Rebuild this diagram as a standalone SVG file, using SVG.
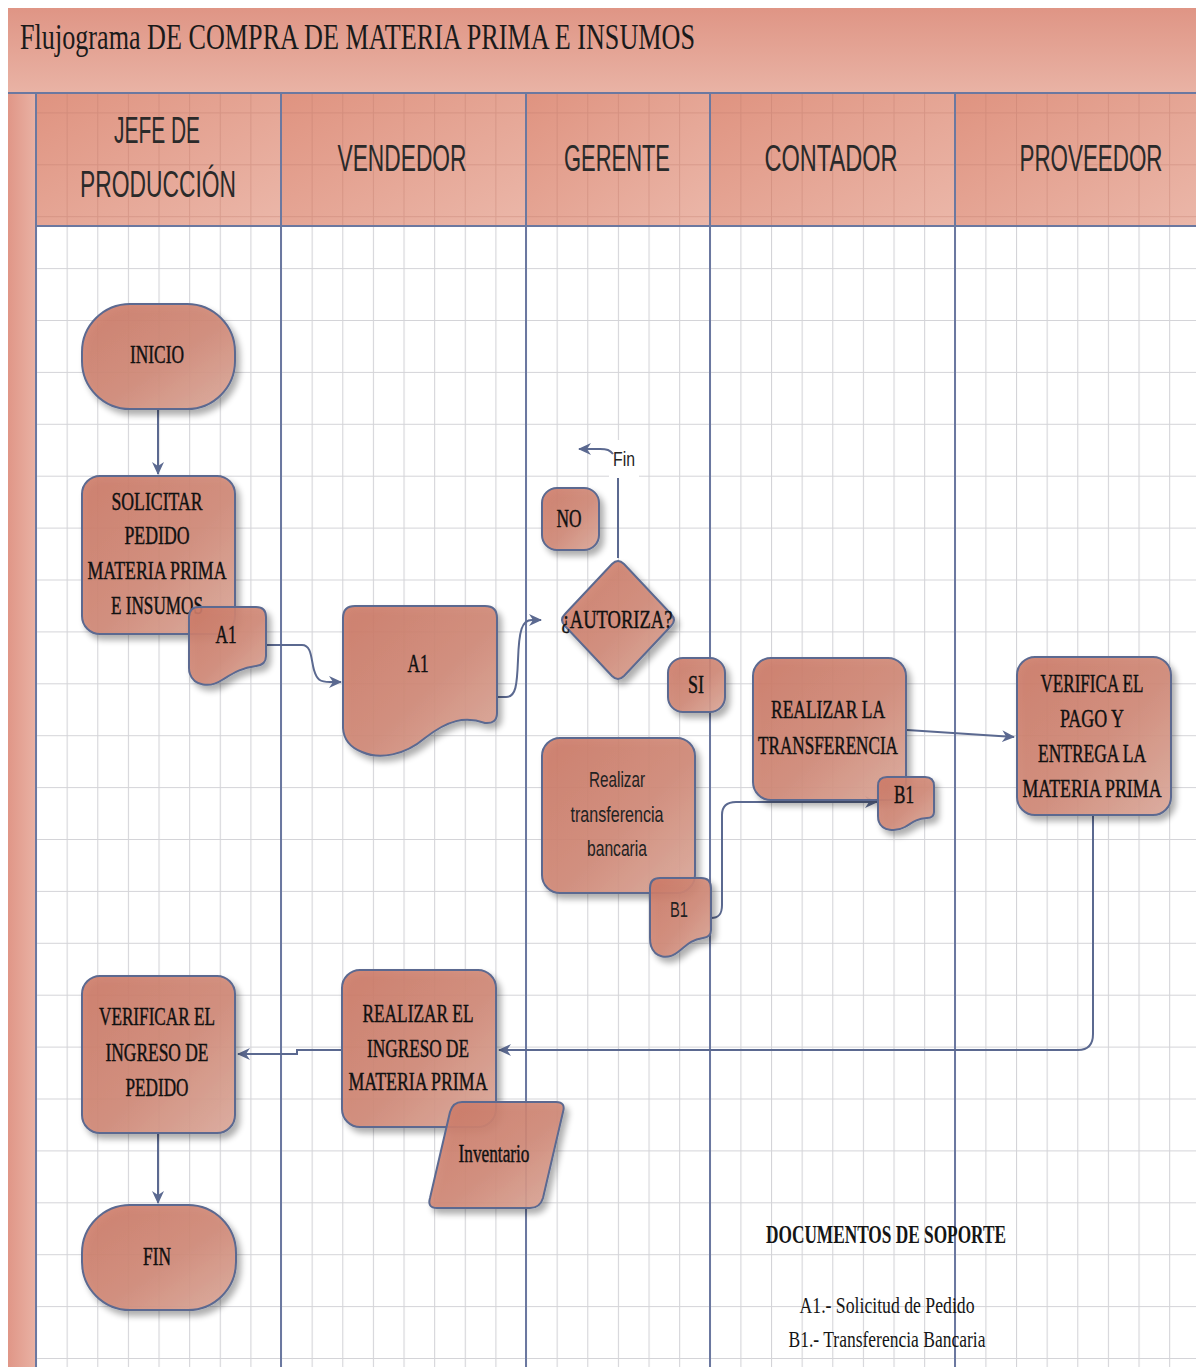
<svg xmlns="http://www.w3.org/2000/svg" width="1196" height="1367" viewBox="0 0 1196 1367">
<style>
.shape{fill:url(#gShape);fill-opacity:0.9;stroke:#5b6990;stroke-width:2;filter:url(#sh)}
.t{font-family:"Liberation Serif",serif;font-size:26px;fill:#111;stroke:#111;stroke-width:0.45;text-anchor:middle}
.ts{font-family:"Liberation Sans",sans-serif;font-size:22px;fill:#222;text-anchor:middle}
.hd{font-family:"Liberation Sans",sans-serif;font-size:36px;fill:#2a2a2a;text-anchor:middle}
.lane{stroke:#6b78a0;stroke-width:2;fill:none}
.con{stroke:#5b6990;stroke-width:2;fill:none}
.arr{marker-end:url(#ah)}
</style>
<defs>
<pattern id="grid" patternUnits="userSpaceOnUse" x="36" y="8.6" width="30.625" height="51.9">
<path d="M0,0 V51.9 M0,0 H30.625" stroke="#d4d4d8" stroke-width="2.2" fill="none"/>
</pattern>
<pattern id="gridH" patternUnits="userSpaceOnUse" x="36" y="8.6" width="30.625" height="51.9">
<path d="M0,0 V51.9 M0,0 H30.625" stroke="#b97466" stroke-opacity="0.35" stroke-width="2" fill="none"/>
</pattern>
<linearGradient id="gShape" x1="0" y1="0" x2="1" y2="1">
<stop offset="0" stop-color="#cc7966"/>
<stop offset="0.55" stop-color="#d18a78"/>
<stop offset="1" stop-color="#dcaa9c"/>
</linearGradient>
<linearGradient id="gHead" x1="0" y1="0" x2="1" y2="1">
<stop offset="0" stop-color="#df9380"/>
<stop offset="1" stop-color="#ebb7a9"/>
</linearGradient>
<linearGradient id="gTitle" x1="0" y1="0" x2="0" y2="1">
<stop offset="0" stop-color="#df9585"/>
<stop offset="1" stop-color="#e9b3a5"/>
</linearGradient>
<linearGradient id="gStrip" x1="0" y1="0" x2="1" y2="0">
<stop offset="0" stop-color="#e09687"/>
<stop offset="1" stop-color="#e9b2a4"/>
</linearGradient>
<filter id="sh" x="-20%" y="-20%" width="150%" height="150%">
<feGaussianBlur in="SourceAlpha" stdDeviation="3"/>
<feOffset dx="4" dy="5" result="o"/>
<feComponentTransfer><feFuncA type="linear" slope="0.35"/></feComponentTransfer>
<feMerge><feMergeNode/><feMergeNode in="SourceGraphic"/></feMerge>
</filter>
<marker id="ah" markerUnits="userSpaceOnUse" markerWidth="14" markerHeight="14" refX="12" refY="7" orient="auto">
<path d="M0,1 L13,7 L0,13 L4,7 Z" fill="#5b6990"/>
</marker>
</defs>

<g id="background">
<rect x="0" y="0" width="1196" height="1367" fill="#ffffff"/>
<rect x="36" y="226" width="1160" height="1141" fill="url(#grid)"/>
<rect x="8" y="8" width="1188" height="85" fill="url(#gTitle)"/>
<rect x="8" y="93" width="28" height="1274" fill="url(#gStrip)"/>
<rect x="36" y="93" width="245" height="133" fill="url(#gHead)"/>
<rect x="281" y="93" width="245" height="133" fill="url(#gHead)"/>
<rect x="526" y="93" width="184" height="133" fill="url(#gHead)"/>
<rect x="710" y="93" width="245" height="133" fill="url(#gHead)"/>
<rect x="955" y="93" width="241" height="133" fill="url(#gHead)"/>
<rect x="36" y="93" width="1160" height="133" fill="url(#gridH)"/>
<text x="20" y="49" font-family="Liberation Serif, serif" font-size="35" fill="#1a1a1a" textLength="675" lengthAdjust="spacingAndGlyphs">Flujograma DE COMPRA DE MATERIA PRIMA E INSUMOS</text>
</g>

<g id="lanes">
<path class="lane" d="M8,93 H1196 M36,226 H1196 M36,93 V1367 M281,93 V1367 M526,93 V1367 M710,93 V1367 M955,93 V1367"/>
<text class="hd" x="157" y="143" textLength="86" lengthAdjust="spacingAndGlyphs">JEFE DE</text>
<text class="hd" x="158" y="197" textLength="156" lengthAdjust="spacingAndGlyphs">PRODUCCIÓN</text>
<text class="hd" x="402" y="171" textLength="129" lengthAdjust="spacingAndGlyphs">VENDEDOR</text>
<text class="hd" x="617" y="171" textLength="106" lengthAdjust="spacingAndGlyphs">GERENTE</text>
<text class="hd" x="831" y="171" textLength="133" lengthAdjust="spacingAndGlyphs">CONTADOR</text>
<text class="hd" x="1091" y="171" font-size="33" textLength="143" lengthAdjust="spacingAndGlyphs">PROVEEDOR</text>
</g>

<g id="connectors">
<path class="con arr" d="M158,408 V474"/>
<path class="con arr" d="M266,645 H302 C312,645 311,660 314,670 C317,680 320,682 330,682 H341"/>
<path class="con arr" d="M497,697 H506 C516,697 517,685 518,660 C519,630 522,620 532,620 H541"/>
<path class="con" d="M618,558 V478"/>
<rect x="609" y="440" width="30" height="38" fill="#ffffff"/>
<path class="con arr" d="M613,454 C610,450 607,449 600,449 H579"/>
<text x="613" y="466" font-family="Liberation Sans, sans-serif" font-size="20" fill="#222" textLength="22" lengthAdjust="spacingAndGlyphs">Fin</text>
<path class="con arr" d="M711,918 C719,918 722,914 722,905 V815 C722,806 727,802 736,802 H877"/>
<path class="con arr" d="M907,730 L1014,737"/>
<path class="con arr" d="M1093,815 V1034 C1093,1044 1088,1050 1078,1050 H499"/>
<path class="con arr" d="M342,1050 H297 V1054 H238"/>
<path class="con arr" d="M158,1133 V1203"/>
</g>

<g id="inicio">
<rect class="shape" x="82" y="304" width="153" height="105" rx="48" ry="48"/>
<text class="t" x="157" y="363" textLength="54" lengthAdjust="spacingAndGlyphs">INICIO</text>
</g>

<g id="solicitar">
<rect class="shape" x="82" y="476" width="153" height="158" rx="18" ry="18"/>
<text class="t" x="157" y="510" textLength="91" lengthAdjust="spacingAndGlyphs">SOLICITAR</text>
<text class="t" x="157" y="544" textLength="65" lengthAdjust="spacingAndGlyphs">PEDIDO</text>
<text class="t" x="157" y="579" font-size="24" textLength="139" lengthAdjust="spacingAndGlyphs">MATERIA PRIMA</text>
<text class="t" x="157" y="614" textLength="92" lengthAdjust="spacingAndGlyphs">E INSUMOS</text>
</g>

<g id="doc-a1-small">
<path class="shape" d="M199,607 H256 Q266,607 266,617 V656 Q266,665 256,666 C240,668 232,674 222,680 C210,688 194,686 190,674 Q189,672 189,668 V617 Q189,607 199,607 Z"/>
<text class="t" x="226" y="643" textLength="21" lengthAdjust="spacingAndGlyphs">A1</text>
</g>

<g id="doc-a1-large">
<path class="shape" d="M355,606 H485 Q497,606 497,618 V713 Q497,724 485,723 C465,716 448,720 425,738 C405,755 380,760 362,752 Q344,745 343,728 V618 Q343,606 355,606 Z"/>
<text class="t" x="418" y="672" textLength="21" lengthAdjust="spacingAndGlyphs">A1</text>
</g>

<g id="no">
<rect class="shape" x="542" y="488" width="57" height="62" rx="15" ry="15"/>
<text class="t" x="569" y="527" textLength="25" lengthAdjust="spacingAndGlyphs">NO</text>
</g>

<g id="autoriza">
<path class="shape" d="M612,564 Q618,558 624,564 L671,614 Q677,620 671,626 L624,676 Q618,682 612,676 L565,626 Q559,620 565,614 Z"/>
<text class="t" x="617" y="628" font-size="24" textLength="111" lengthAdjust="spacingAndGlyphs">¿AUTORIZA?</text>
</g>

<g id="si">
<rect class="shape" x="668" y="658" width="57" height="54" rx="15" ry="15"/>
<text class="t" x="696" y="693" textLength="16" lengthAdjust="spacingAndGlyphs">SI</text>
</g>

<g id="realizar-transferencia-bancaria">
<rect class="shape" x="542" y="738" width="153" height="155" rx="18" ry="18"/>
<text class="ts" x="617" y="787" textLength="56" lengthAdjust="spacingAndGlyphs">Realizar</text>
<text class="ts" x="617" y="822" textLength="93" lengthAdjust="spacingAndGlyphs">transferencia</text>
<text class="ts" x="617" y="856" textLength="60" lengthAdjust="spacingAndGlyphs">bancaria</text>
</g>

<g id="doc-b1-left">
<path class="shape" d="M660,878 H701 Q711,878 711,888 V930 Q711,937 703,938 C690,940 686,946 678,952 C668,960 655,958 651,946 Q650,943 650,938 V888 Q650,878 660,878 Z"/>
<text class="ts" x="679" y="917" textLength="18" lengthAdjust="spacingAndGlyphs">B1</text>
</g>

<g id="realizar-la-transferencia">
<rect class="shape" x="753" y="658" width="153" height="142" rx="18" ry="18"/>
<text class="t" x="828" y="718" textLength="114" lengthAdjust="spacingAndGlyphs">REALIZAR LA</text>
<text class="t" x="828" y="754" font-size="23" textLength="140" lengthAdjust="spacingAndGlyphs">TRANSFERENCIA</text>
</g>

<g id="doc-b1-right">
<path class="shape" d="M887,777 H925 Q934,777 934,786 V812 Q934,818 927,818 C915,819 912,823 905,827 C896,832 882,831 879,822 Q878,820 878,816 V786 Q878,777 887,777 Z"/>
<text class="t" x="904" y="803" textLength="20" lengthAdjust="spacingAndGlyphs">B1</text>
</g>

<g id="verifica-pago">
<rect class="shape" x="1017" y="657" width="154" height="158" rx="18" ry="18"/>
<text class="t" x="1092" y="692" textLength="103" lengthAdjust="spacingAndGlyphs">VERIFICA EL</text>
<text class="t" x="1092" y="727" textLength="64" lengthAdjust="spacingAndGlyphs">PAGO Y</text>
<text class="t" x="1092" y="762" font-size="24" textLength="108" lengthAdjust="spacingAndGlyphs">ENTREGA LA</text>
<text class="t" x="1092" y="797" font-size="23" textLength="139" lengthAdjust="spacingAndGlyphs">MATERIA PRIMA</text>
</g>

<g id="realizar-ingreso">
<rect class="shape" x="342" y="970" width="154" height="157" rx="18" ry="18"/>
<text class="t" x="418" y="1022" textLength="111" lengthAdjust="spacingAndGlyphs">REALIZAR EL</text>
<text class="t" x="418" y="1057" textLength="102" lengthAdjust="spacingAndGlyphs">INGRESO DE</text>
<text class="t" x="418" y="1090" font-size="23" textLength="139" lengthAdjust="spacingAndGlyphs">MATERIA PRIMA</text>
</g>

<g id="inventario">
<path class="shape" d="M462,1102 H556 Q566,1102 563,1112 L543,1198 Q540,1208 530,1208 H437 Q427,1208 430,1198 L450,1112 Q453,1102 462,1102 Z"/>
<text class="t" x="494" y="1162" textLength="71" lengthAdjust="spacingAndGlyphs">Inventario</text>
</g>

<g id="verificar-ingreso">
<rect class="shape" x="82" y="976" width="153" height="157" rx="18" ry="18"/>
<text class="t" x="157" y="1025" textLength="116" lengthAdjust="spacingAndGlyphs">VERIFICAR EL</text>
<text class="t" x="157" y="1061" textLength="103" lengthAdjust="spacingAndGlyphs">INGRESO DE</text>
<text class="t" x="157" y="1096" textLength="63" lengthAdjust="spacingAndGlyphs">PEDIDO</text>
</g>

<g id="fin">
<rect class="shape" x="82" y="1205" width="154" height="105" rx="48" ry="48"/>
<text class="t" x="157" y="1265" textLength="28" lengthAdjust="spacingAndGlyphs">FIN</text>
</g>

<g id="documentos-soporte">
<text x="886" y="1243" font-family="Liberation Serif, serif" font-size="25" font-weight="bold" fill="#151515" text-anchor="middle" textLength="240" lengthAdjust="spacingAndGlyphs">DOCUMENTOS DE SOPORTE</text>
<text x="887" y="1313" font-family="Liberation Serif, serif" font-size="24" fill="#151515" text-anchor="middle" textLength="175" lengthAdjust="spacingAndGlyphs">A1.-  Solicitud de Pedido</text>
<text x="887" y="1347" font-family="Liberation Serif, serif" font-size="24" fill="#151515" text-anchor="middle" textLength="197" lengthAdjust="spacingAndGlyphs">B1.- Transferencia Bancaria</text>
</g>
</svg>
